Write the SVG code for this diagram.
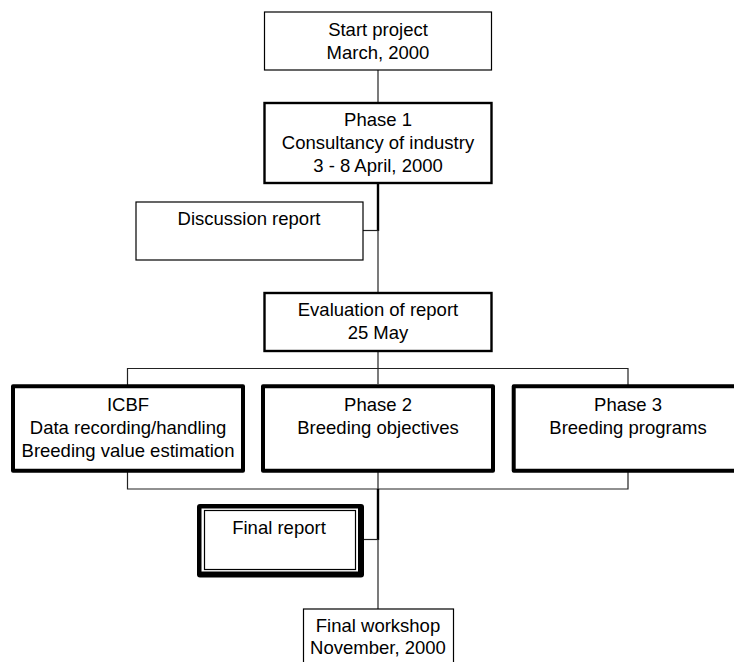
<svg xmlns="http://www.w3.org/2000/svg" width="734" height="662" viewBox="0 0 734 662">
<style>
  text { font-family: "Liberation Sans", Arial, sans-serif; font-size: 18.5px; fill: #000; text-anchor: middle; }
  .thin { fill: #fff; stroke: #000; stroke-width: 1.2; }
  .med { fill: #fff; stroke: #000; stroke-width: 2.4; }
  .thick { fill: #fff; stroke: #000; stroke-width: 4; stroke-linejoin: round; }
  .c { fill: none; stroke: #222; stroke-width: 1.2; }
  .cb { fill: none; stroke: #000; stroke-width: 2.4; }
</style>
<rect width="734" height="662" fill="#fff"/>
<g id="connectors">
  <line class="c" x1="378" y1="70" x2="378" y2="103"/>
  <line class="cb" x1="378" y1="183" x2="378" y2="231"/>
  <line class="c" x1="363" y1="230.5" x2="378" y2="230.5"/>
  <line class="c" x1="378" y1="230" x2="378" y2="293"/>
  <line class="c" x1="378" y1="351" x2="378" y2="384"/>
  <polyline class="c" points="127.5,386 127.5,368.5 628,368.5 628,386"/>
  <polyline class="c" points="127.5,471 127.5,489 628,489 628,471"/>
  <line class="c" x1="378" y1="471" x2="378" y2="489"/>
  <line class="cb" x1="378" y1="489" x2="378" y2="540"/>
  <line class="c" x1="362" y1="539.5" x2="378" y2="539.5"/>
  <line class="c" x1="378" y1="539" x2="378" y2="609"/>
</g>
<g id="start">
  <rect class="thin" x="264.5" y="12" width="227" height="58"/>
  <text x="378" y="36">Start project</text>
  <text x="378" y="59">March, 2000</text>
</g>
<g id="phase1">
  <rect class="med" x="264.5" y="103" width="227" height="80"/>
  <text x="378" y="126">Phase 1</text>
  <text x="378" y="149">Consultancy of industry</text>
  <text x="378" y="172">3 - 8 April, 2000</text>
</g>
<g id="discussion">
  <rect class="thin" x="136" y="202" width="227" height="58"/>
  <text x="249" y="225">Discussion report</text>
</g>
<g id="evaluation">
  <rect class="med" x="264.5" y="293" width="227" height="58"/>
  <text x="378" y="316">Evaluation of report</text>
  <text x="378" y="339">25 May</text>
</g>
<g id="icbf">
  <rect class="thick" x="13" y="386.3" width="230" height="84.4"/>
  <text x="128" y="411">ICBF</text>
  <text x="128" y="434">Data recording/handling</text>
  <text x="128" y="457">Breeding value estimation</text>
</g>
<g id="phase2">
  <rect class="thick" x="263" y="386.3" width="230" height="84.4"/>
  <text x="378" y="411">Phase 2</text>
  <text x="378" y="434">Breeding objectives</text>
</g>
<g id="phase3">
  <rect class="thick" x="513.7" y="386.3" width="230" height="84.4"/>
  <text x="628" y="411">Phase 3</text>
  <text x="628" y="434">Breeding programs</text>
</g>
<g id="final-report">
  <rect x="197" y="504" width="167" height="73.5" rx="3" fill="#000"/>
  <rect x="201.5" y="508.5" width="156.5" height="63" fill="#fff"/>
  <rect x="204.5" y="510.5" width="151" height="59" fill="none" stroke="#000" stroke-width="1.2"/>
  <text x="279" y="534">Final report</text>
</g>
<g id="final-workshop">
  <rect class="thin" x="303.5" y="609" width="150" height="60"/>
  <text x="378" y="632">Final workshop</text>
  <text x="378" y="654">November, 2000</text>
</g>
</svg>
